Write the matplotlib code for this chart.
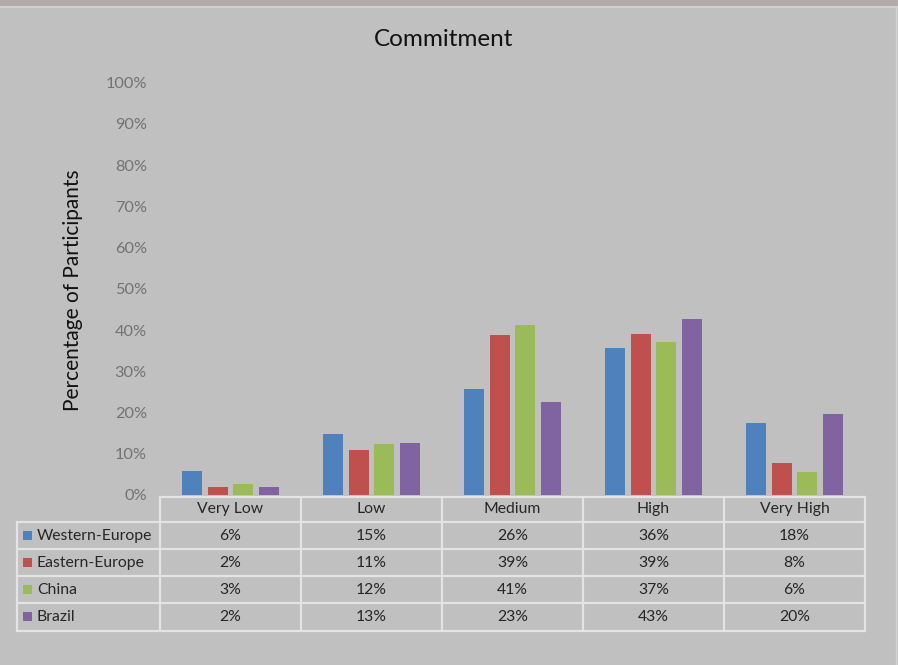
import matplotlib
matplotlib.use("Agg")
import matplotlib.pyplot as plt
from matplotlib.patches import Rectangle
from matplotlib.lines import Line2D
import numpy as np

categories = ["Very Low", "Low", "Medium", "High", "Very High"]
series_names = ["Western-Europe", "Eastern-Europe", "China", "Brazil"]
western_europe = [5.9, 14.9, 25.6, 35.6, 17.5]
eastern_europe = [2.0, 10.8, 38.8, 39.0, 7.8]
china = [2.6, 12.3, 41.2, 37.2, 5.6]
brazil = [2.0, 12.6, 22.6, 42.7, 19.6]
series_values = [western_europe, eastern_europe, china, brazil]
colors = ["#4f81bd", "#c0504d", "#9bbb59", "#8064a2"]
y_ticks = list(range(0, 101, 10))

W, H = 898, 665
BG = "#c0c0c0"
FONT = "Lato"
plt.rcParams['font.family'] = [FONT, 'DejaVu Sans']

fig = plt.figure(figsize=(W / 100, H / 100), dpi=100, facecolor=BG)

def fx(px):
    return px / W

def fy(py):
    return 1 - py / H

# top band
fig.patches.append(Rectangle((0, fy(6)), 1, 6 / H, transform=fig.transFigure,
                             facecolor="#b1acaa", edgecolor="none", zorder=0))
fig.add_artist(Line2D([0, 1], [fy(7), fy(7)], transform=fig.transFigure,
                      color="#d4d4d4", lw=1.2))
fig.add_artist(Line2D([fx(896), fx(896)], [fy(7), 0], transform=fig.transFigure,
                      color="#d4d4d4", lw=1.0))

left_px, right_px = 160, 865
top_px, bottom_px = 82.7, 495
ax = fig.add_axes([fx(left_px), fy(bottom_px), fx(right_px - left_px),
                   (bottom_px - top_px) / H])
ax.set_facecolor(BG)
ax.patch.set_alpha(0)

n = len(series_names)
x = np.arange(len(categories))
step = 0.182
width = 0.142
for i, (vals, c) in enumerate(zip(series_values, colors)):
    ax.bar(x + (i - (n - 1) / 2) * step, vals, width=width, color=c, zorder=3)

ax.set_xlim(-0.5, len(categories) - 0.5)
ax.set_ylim(0, 100)
ax.set_yticks(y_ticks)
ax.set_yticklabels([f"{t}%" for t in y_ticks], color="#727272", fontsize=11.7)
ax.tick_params(axis="y", length=0, pad=9.5)
ax.set_xticks([])
for s in ax.spines.values():
    s.set_visible(False)

fig.text(fx(444), fy(40), "Commitment", ha="center", va="center",
         fontsize=17.5, color="#111111")
fig.text(fx(73), fy(290), "Percentage of Participants", ha="center", va="center",
         rotation=90, fontsize=15, color="#111111")

# data table
line_c = "#e4e4e4"
lw = 1.6
col_edges = np.linspace(left_px, right_px, len(categories) + 1)
label_left = 17
header_top, header_bot = 496.5, 522
row_edges = np.linspace(header_bot, 630.5, len(series_names) + 1)

def hline(x0, x1, y):
    fig.add_artist(Line2D([fx(x0), fx(x1)], [fy(y), fy(y)],
                          transform=fig.transFigure, color=line_c, lw=lw))

def vline(xp, y0, y1):
    fig.add_artist(Line2D([fx(xp), fx(xp)], [fy(y0), fy(y1)],
                          transform=fig.transFigure, color=line_c, lw=lw))

hline(left_px, right_px, header_top)
for r in row_edges:
    hline(label_left, right_px, r)
vline(label_left, header_bot, row_edges[-1])
for ce in col_edges:
    vline(ce, header_top, row_edges[-1])

tcol = "#262626"
tsize = 11.3
for j, cat in enumerate(categories):
    cx = (col_edges[j] + col_edges[j + 1]) / 2
    fig.text(fx(cx), fy((header_top + header_bot) / 2), cat, ha="center",
             va="center", fontsize=tsize, color=tcol)
for i, (name, vals, c) in enumerate(zip(series_names, series_values, colors)):
    cy = (row_edges[i] + row_edges[i + 1]) / 2
    fig.patches.append(Rectangle((fx(23), fy(cy + 4.5)), 9 / W, 9 / H,
                                 transform=fig.transFigure, facecolor=c,
                                 edgecolor="none"))
    fig.text(fx(37), fy(cy), name, ha="left", va="center", fontsize=tsize,
             color=tcol)
    for j, v in enumerate(vals):
        cx = (col_edges[j] + col_edges[j + 1]) / 2
        fig.text(fx(cx), fy(cy), f"{v:.0f}%", ha="center", va="center",
                 fontsize=tsize, color=tcol)

fig.savefig("out.png", dpi=100, facecolor=BG)
